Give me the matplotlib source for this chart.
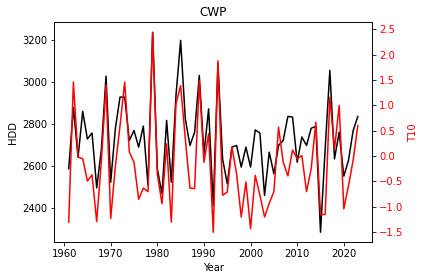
import matplotlib
matplotlib.use("Agg")
import matplotlib.pyplot as plt
import numpy as np

# ── Data ──────────────────────────────────────────────────────────────────────

years = np.arange(1961, 2024)

hdd = [2589, 2880, 2644, 2862, 2731, 2759, 2498, 2680, 3030,   # 1961-1969
       2525, 2780, 2930, 2930, 2724, 2771, 2692, 2792, 2510,   # 1970-1978
       3238, 2589, 2470, 2819, 2525, 2938, 3200, 2827, 2700,   # 1979-1987
       2763, 3033, 2660, 2874, 2414, 3089, 2636, 2517, 2692,   # 1988-1996
       2700, 2597, 2692, 2597, 2774, 2759, 2462, 2668, 2565,   # 1997-2005
       2700, 2724, 2838, 2835, 2620, 2740, 2700, 2782, 2790,   # 2006-2014
       2287, 2684, 3057, 2636, 2763, 2554, 2629, 2771, 2838]   # 2015-2023

t10 = [-1.30, 1.46, -0.02, -0.05, -0.49, -0.37, -1.29, -0.10, 1.40,
       -1.23, -0.20, 0.60, 1.46, 0.08, -0.12, -0.85, -0.63, -0.70,
       2.44, -0.35, -0.94, 0.24, -1.30, 1.03, 1.39, 0.34, -0.63,
       -0.64, 1.49, -0.12, 0.44, -1.50, 1.88, -0.77, -0.71, 0.18,
       -0.35, -1.20, -0.51, -1.43, -0.38, -0.77, -1.20, -0.93, -0.70,
       0.57, -0.12, -0.39, 0.12, -0.05, 0.01, -0.70, -0.25, 0.67,
       -1.15, -1.15, 1.16, 0.14, 1.00, -1.04, -0.58, -0.08, 0.60]

# ── Plot ──────────────────────────────────────────────────────────────────────

fig, ax = plt.subplots(figsize=(424 / 72, 280 / 72), dpi=72)
fig.subplots_adjust(left=0.128, right=0.878, bottom=0.135, top=0.920)

ax.plot(years, hdd, color="black", linewidth=1.5)
ax.set_xlabel("Year")
ax.set_ylabel("HDD")
ax.set_title("CWP")

ax2 = ax.twinx()
ax2.plot(years, t10, color="red", linewidth=1.5)
ax2.set_ylabel("T10", color="red")
ax2.tick_params(axis="y", labelcolor="red")

fig.savefig("out.png", dpi=72)
